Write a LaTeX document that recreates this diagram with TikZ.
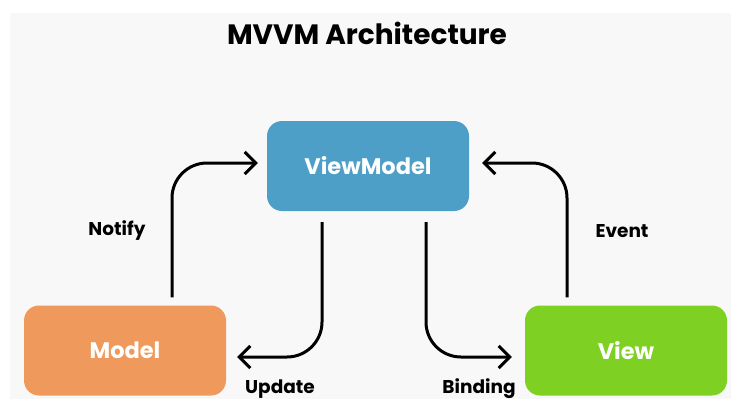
\documentclass[tikz,border=0pt]{standalone}
\usepackage{fontspec}
\setmainfont{Poppins}
\usetikzlibrary{arrows.meta}
\definecolor{bgc}{HTML}{F8F8F8}
\definecolor{vmc}{HTML}{4E9FC7}
\definecolor{mc}{HTML}{EF9A5C}
\definecolor{vc}{HTML}{7ED022}
\begin{document}
\begin{tikzpicture}[x=1pt,y=-1pt,
  box/.style={rounded corners=15pt, minimum width=202pt, minimum height=90pt, text=white, font=\fontsize{22.5}{26}\selectfont\bfseries, inner sep=0pt},
  arr/.style={line width=3pt, -{Straight Barb[length=11pt,width=22pt]}, rounded corners=35pt},
  lbl/.style={font=\fontsize{18.5}{22}\selectfont\bfseries, inner sep=0pt}]
\useasboundingbox (0,0) rectangle (731,399);
\fill[white] (0,0) rectangle (731,399);
\fill[bgc] (10,13) rectangle (731,399);
\node[font=\fontsize{28}{32}\selectfont\bfseries] (title) at (367,33) {MVVM Architecture};
\node[box, fill=vmc] (VM) at (368,166) {ViewModel};
\node[box, fill=mc] (M) at (125,350.5) {Model};
\node[box, fill=vc] (V) at (626,350.5) {View};
\draw[arr] ([xshift=47pt,yshift=8pt]M.north) |- ([xshift=-9pt,yshift=3pt]VM.west);
\draw[arr] ([xshift=-46pt,yshift=-11pt]VM.south) |- ([xshift=11pt,yshift=-6.5pt]M.east);
\draw[arr] ([xshift=58pt,yshift=-11pt]VM.south) |- ([xshift=-13pt,yshift=-6.5pt]V.west);
\draw[arr] ([xshift=-59pt,yshift=8pt]V.north) |- ([xshift=13pt,yshift=3pt]VM.east);
\node[lbl] (notify) at (117,231) {Notify};
\node[lbl] (event) at (622,231) {Event};
\node[lbl] (update) at (280,389) {Update};
\node[lbl] (binding) at (479,389) {Binding};
\end{tikzpicture}
\end{document}
